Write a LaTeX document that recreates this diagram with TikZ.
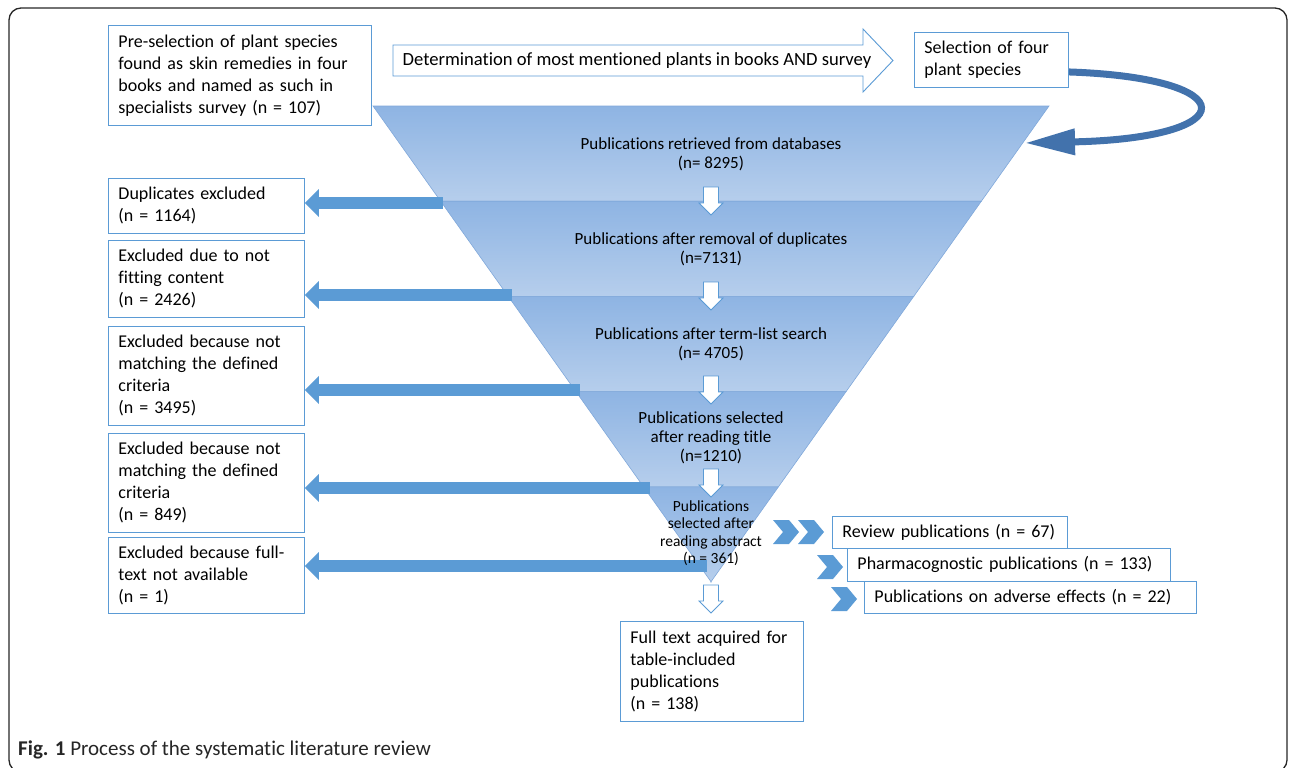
\documentclass[tikz,border=0pt]{standalone}
\usepackage{fontspec}
\setmainfont{Carlito}[Ligatures={NoCommon,NoContextual}]
\usetikzlibrary{arrows.meta}

\definecolor{boxline}{RGB}{91,155,213}
\definecolor{arrowblue}{RGB}{91,155,213}
\definecolor{arrowdark}{RGB}{66,114,172}
\definecolor{funtop}{RGB}{142,180,227}
\definecolor{funbot}{RGB}{182,206,236}
\definecolor{funline}{RGB}{128,168,218}

\begin{document}
\begin{tikzpicture}[
    x=1pt, y=-1pt,
    box/.style={
        draw=boxline,
        line width=0.9pt,
        fill=white,
        anchor=north west,
        align=left,
        inner xsep=10pt,
        inner ysep=0pt,
        font=\fontsize{18}{22}\selectfont,
    },
    band/.style={
        align=center,
        inner sep=0pt,
        font=\fontsize{17}{19}\selectfont,
    },
    exarrow/.style={
        line width=12pt,
        arrowblue,
        -{Triangle[length=14pt,width=27pt]},
    },
    looparrow/.style={
        line width=7pt,
        arrowdark,
        -{Triangle[length=50pt,width=25pt]},
    },
    dnarrow/.pic={
        \draw[boxline, fill=white, line width=0.8pt]
            (-7.5,0) -- (7.5,0) -- (7.5,16) -- (12,16) -- (0,28)
            -- (-12,16) -- (-7.5,16) -- cycle;
    },
    chevron/.pic={
        \fill[arrowblue] (0,-12) -- (16,-12) -- (26,0) -- (16,12)
            -- (0,12) -- (10,0) -- cycle;
    },
]
    \useasboundingbox (0,0) rectangle (1290,768);

    % Frame
    \draw[line width=1.3pt, black!85, rounded corners=12pt] (9,8) rectangle (1287,772);

    % Top row
    \node[box, text width=243pt, minimum height=100pt] (pre) at (108,25)
        {Pre-selection of plant species\\found as skin remedies in four\\books and named as such in\\specialists survey (n = 107)};
    \draw[boxline, fill=white, line width=0.9pt]
        (393,45) -- (863,45) -- (863,29) -- (893,60.5) -- (863,92) -- (863,76) -- (393,76) -- cycle;
    \node[font=\fontsize{18.6}{22}\selectfont, inner sep=0pt] (det) at (637,60.5)
        {Determination of most mentioned plants in books AND survey};
    \node[box, text width=134pt, minimum height=55pt] (sel) at (914,32)
        {Selection of four\\plant species};

    % Funnel
    \foreach \k in {0,...,4}{
        \pgfmathsetmacro{\ya}{106+95.2*\k}
        \pgfmathsetmacro{\yb}{\ya+95.2}
        \pgfmathsetmacro{\dl}{(\ya-106)*0.7105}
        \pgfmathsetmacro{\dm}{(\yb-106)*0.7105}
        \shade[top color=funtop, bottom color=funbot, draw=funline, line width=0.6pt]
            (373+\dl,\ya) -- (1049-\dl,\ya) -- (1049-\dm,\yb) -- (373+\dm,\yb) -- cycle;
    }
    \coordinate (f1r) at (1025,143);
    \coordinate (e1) at (443,203);
    \coordinate (e2) at (512,295);
    \coordinate (e3) at (580,390);
    \coordinate (e4) at (650,488);
    \coordinate (e5) at (707,566);

    % Loop back into the funnel
    \draw[looparrow] ([yshift=-12pt]sel.east) .. controls (1245,78) and (1245,138) .. (f1r);

    % Excluded boxes
    \node[box, text width=176pt, minimum height=55pt] (dup) at (108,178)
        {Duplicates excluded\\(n = 1164)};
    \node[box, text width=176pt, minimum height=77pt] (fit) at (108,240)
        {Excluded due to not\\fitting content\\(n = 2426)};
    \node[box, text width=176pt, minimum height=99pt] (crit) at (108,326)
        {Excluded because not\\matching the defined\\criteria\\(n = 3495)};
    \node[box, text width=176pt, minimum height=99pt] (critb) at (108,433)
        {Excluded because not\\matching the defined\\criteria\\(n = 849)};
    \node[box, text width=176pt, minimum height=76pt] (nofull) at (108,537)
        {Excluded because full-\\text not available\\(n = 1)};

    \draw[exarrow] (e1) -- (e1 -| dup.east);
    \draw[exarrow] (e2) -- (e2 -| fit.east);
    \draw[exarrow] (e3) -- (e3 -| crit.east);
    \draw[exarrow] (e4) -- (e4 -| critb.east);
    \draw[exarrow] (e5) -- (e5 -| nofull.east);

    % Funnel steps
    \node[band] (b1) at (711,154) {Publications retrieved from databases\\(n= 8295)};
    \node[band] (b2) at (711,249) {Publications after removal of duplicates\\(n=7131)};
    \node[band] (b3) at (711,344) {Publications after term-list search\\(n= 4705)};
    \node[band] (b4) at (711,438) {Publications selected\\after reading title\\(n=1210)};
    \node[band, font=\fontsize{15.5}{17.5}\selectfont] (b5) at (711,533)
        {Publications\\selected after\\reading abstract\\(n = 361)};

    \foreach \y in {187,282,376,469,585}
        \pic at (711,\y) {dnarrow};

    % Results
    \node[box, text width=163pt, minimum height=100pt] (acq) at (620,621)
        {Full text acquired for\\table-included\\publications\\(n = 138)};
    \node[box, text width=215pt, minimum height=32pt] (rev) at (832,516)
        {Review publications (n = 67)};
    \node[box, text width=303pt, minimum height=33pt] (pharm) at (847,548)
        {Pharmacognostic publications (n = 133)};
    \node[box, text width=312pt, minimum height=32pt] (adv) at (864,581)
        {Publications on adverse effects (n = 22)};

    \pic at (773,532) {chevron};
    \pic at (798,532) {chevron};
    \pic at (817,567) {chevron};
    \pic at (831,599) {chevron};

    % Caption
    \node[anchor=base west, inner sep=0pt, font=\fontsize{21}{23}\selectfont, black!85] (cap) at (18,755)
        {\textbf{Fig. 1} Process of the systematic literature review};
\end{tikzpicture}
\end{document}
